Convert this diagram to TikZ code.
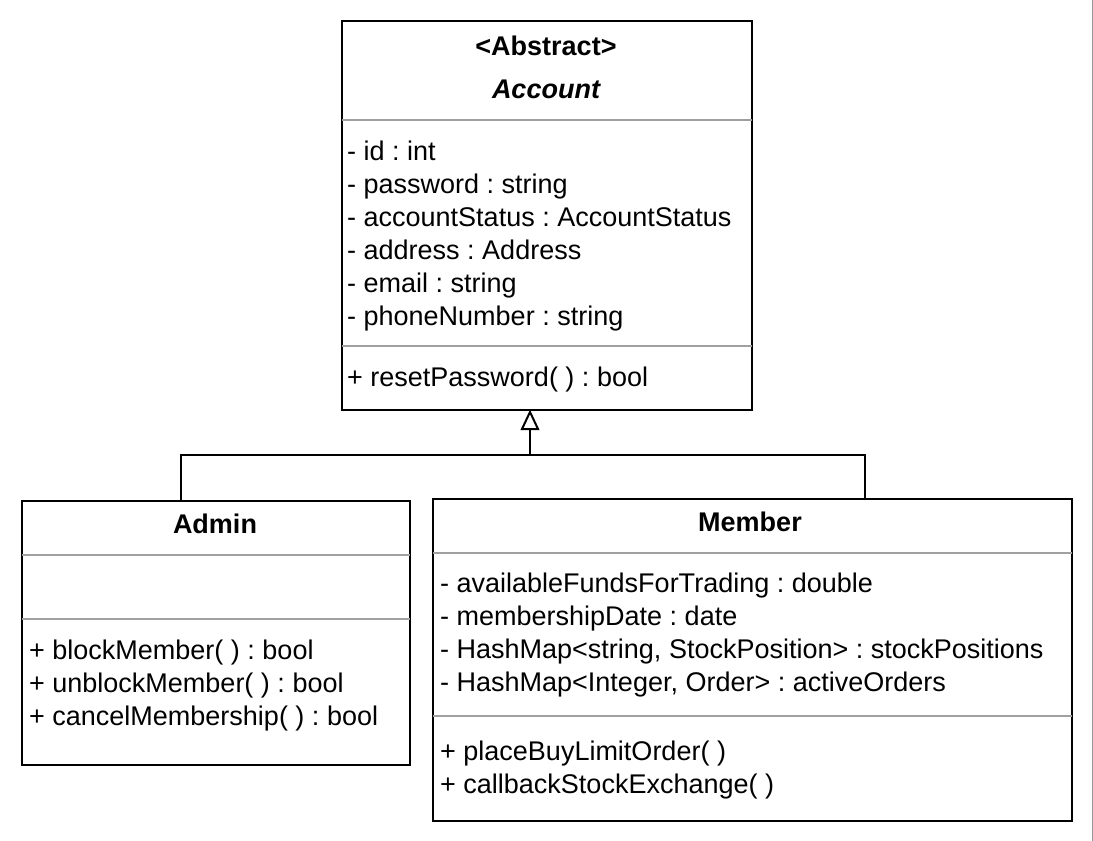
\documentclass[tikz,border=0pt]{standalone}
\usepackage{fontspec}
\setmainfont{Liberation Sans}
\usetikzlibrary{arrows.meta}
\definecolor{sepgray}{RGB}{160,160,160}
\definecolor{edgegray}{RGB}{150,150,150}
\frenchspacing
\begin{document}
\begin{tikzpicture}[x=1pt,y=-1pt,
  classbox/.style={draw=black, line width=2pt, rectangle, inner sep=0pt, anchor=north west},
  sepline/.style={draw=sepgray, line width=2pt, shorten <=1pt, shorten >=1pt},
  attr/.style={anchor=base west, inner sep=0pt, font=\fontsize{27}{33}\selectfont},
  ctitle/.style={anchor=base, inner sep=0pt, font=\fontsize{27}{33}\selectfont\bfseries},
  conn/.style={draw=black, line width=2pt},
  openhead/.style={draw=black, fill=white, line width=2pt, line join=miter}]
\fill[white] (0,0) rectangle (1093,841);
\useasboundingbox (0,0) rectangle (1093,841);
\draw[edgegray, line width=1.5pt] (1092.3,0) -- (1092.3,841);

% Account
\node[classbox, minimum width=410pt, minimum height=389pt] (acc) at (341,20) {};
\draw[sepline] (acc.west |- 0,120) -- (acc.east |- 0,120);
\draw[sepline] (acc.west |- 0,346) -- (acc.east |- 0,346);
\node[ctitle] (accst) at (546,55) {<Abstract>};
\node[ctitle, font=\fontsize{27}{33}\selectfont\bfseries\itshape] (accname) at (546,98) {Account};
\node[attr] (a1) at (347,160) {- id : int};
\node[attr] (a2) at (347,193) {- password : string};
\node[attr] (a3) at (347,226) {- accountStatus : AccountStatus};
\node[attr] (a4) at (347,259) {- address : Address};
\node[attr] (a5) at (347,292) {- email : string};
\node[attr] (a6) at (347,325) {- phoneNumber : string};
\node[attr] (am1) at (347,386) {+ resetPassword( ) : bool};

% Admin
\node[classbox, minimum width=388pt, minimum height=264pt] (adm) at (21,500) {};
\draw[sepline] (adm.west |- 0,555) -- (adm.east |- 0,555);
\draw[sepline] (adm.west |- 0,619) -- (adm.east |- 0,619);
\node[ctitle] (admname) at (215,533) {Admin};
\node[attr] (d1) at (29,659) {+ blockMember( ) : bool};
\node[attr] (d2) at (29,692) {+ unblockMember( ) : bool};
\node[attr] (d3) at (29,725) {+ cancelMembership( ) : bool};

% Member
\node[classbox, minimum width=639pt, minimum height=322pt] (mem) at (432,498) {};
\draw[sepline] (mem.west |- 0,553) -- (mem.east |- 0,553);
\draw[sepline] (mem.west |- 0,716) -- (mem.east |- 0,716);
\node[ctitle] (memname) at (750,531) {Member};
\node[attr] (m1) at (440,592) {- availableFundsForTrading : double};
\node[attr] (m2) at (440,625) {- membershipDate : date};
\node[attr] (m3) at (440,658) {- HashMap<string, StockPosition> : stockPositions};
\node[attr] (m4) at (440,691) {- HashMap<Integer, Order> : activeOrders};
\node[attr] (mm1) at (440,760) {+ placeBuyLimitOrder( )};
\node[attr] (mm2) at (440,793) {+ callbackStockExchange( )};

% Generalization
\coordinate (ja) at (181,455);
\coordinate (jc) at (530,455);
\coordinate (jm) at (865,455);
\coordinate (tip) at ([yshift=-1pt]acc.south -| jc);
\coordinate (tbase) at ([yshift=-17pt]tip);
\draw[conn] (adm.north -| ja) -- (ja) -- (jm) -- (mem.north -| jm);
\draw[conn] (jc) -- (tbase);
\draw[openhead] (tip) -- ([xshift=-8pt]tbase) -- ([xshift=8pt]tbase) -- cycle;
\end{tikzpicture}
\end{document}
